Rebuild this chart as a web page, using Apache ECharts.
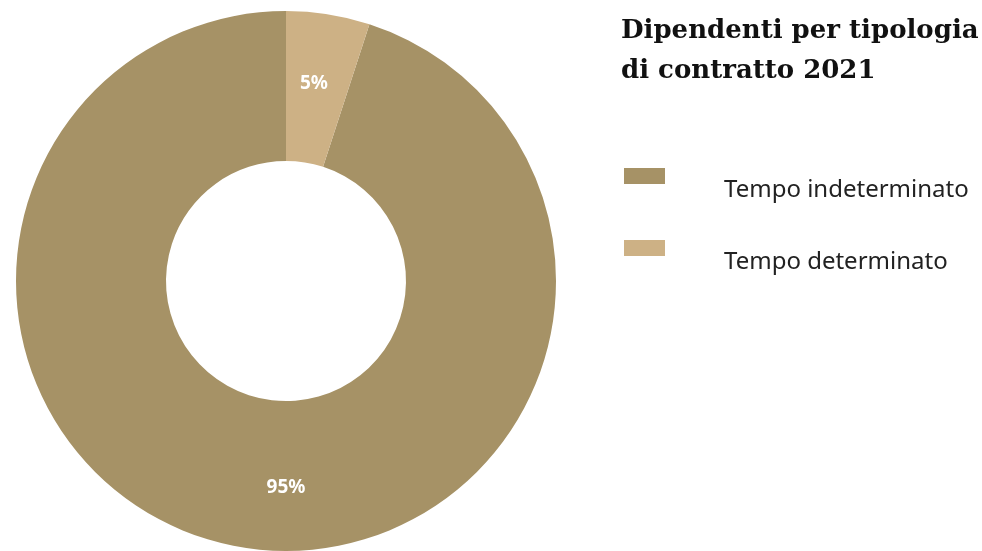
<!DOCTYPE html>
<html>
<head>
<meta charset="utf-8">
<script src="https://cdn.jsdelivr.net/npm/echarts@6/dist/echarts.min.js"></script>
<style>
  html, body { margin: 0; padding: 0; background: #ffffff; }
  #chart { width: 982px; height: 551px; }
</style>
</head>
<body>
<div id="chart"></div>
<script>
// Contract types and their share of employees (%)
const categories = ['Tempo indeterminato', 'Tempo determinato'];
const shares = [95, 5];
const colors = ['#A69266', '#CDB185'];
const titleLines = ['Dipendenti per tipologia', 'di contratto 2021'];

// Nudges for the in-slice percentage labels
const labelOffsets = [[31, 11], [-3, -2]];

const pieData = categories.map((name, i) => ({
  name: name,
  value: shares[i],
  itemStyle: { color: colors[i] },
  label: { offset: labelOffsets[i] }
}));

const chart = echarts.init(document.getElementById('chart'), null, { renderer: 'canvas' });
chart.setOption({
  animation: false,
  title: {
    text: titleLines.join('\n'),
    left: 616,
    top: 6,
    textStyle: {
      fontFamily: 'DejaVu Serif',
      fontWeight: 'bold',
      fontSize: 26,
      lineHeight: 40,
      color: '#111111'
    }
  },
  legend: {
    orient: 'vertical',
    left: 619,
    top: 143,
    itemWidth: 41,
    itemHeight: 16,
    itemGap: 16,
    icon: 'rect',
    data: categories,
    // a blank first line drops each name below its swatch
    formatter: name => '\n' + name,
    textStyle: {
      fontFamily: 'Noto Sans',
      fontSize: 24,
      lineHeight: 28,
      color: '#222222',
      padding: [0, 0, 0, 54]
    }
  },
  series: [{
    type: 'pie',
    center: [286, 281],
    radius: [120, 270],
    startAngle: 90,
    clockwise: false,
    silent: true,
    label: {
      show: true,
      position: 'inside',
      formatter: '{c}%',
      color: '#ffffff',
      fontFamily: 'Noto Sans',
      fontWeight: 'bold',
      fontSize: 19
    },
    labelLine: { show: false },
    data: pieData
  }]
});
</script>
</body>
</html>
